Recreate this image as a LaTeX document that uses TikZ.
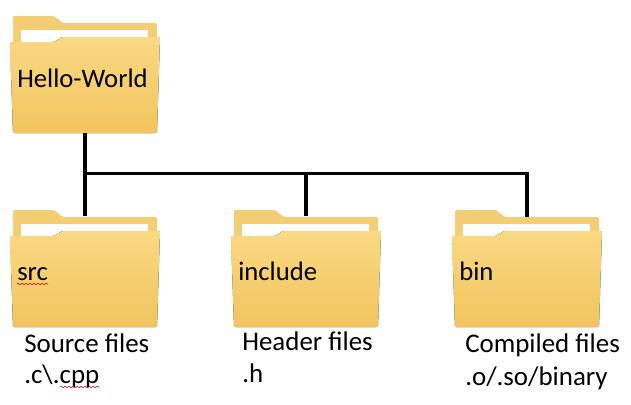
\documentclass[tikz,border=0pt]{standalone}
\usepackage{fontspec}
\setmainfont{Carlito}
\usetikzlibrary{decorations.pathmorphing}

\tikzset{
  folderback/.style={fill=folderdark},
  folderfront/.style={top color=foldertop, bottom color=folderbottom},
  folderbox/.style={minimum width=108pt, minimum height=83.25pt, inner sep=0pt},
  foldername/.style={anchor=base west, inner sep=0pt, font=\fontsize{20}{24}\selectfont},
  caption/.style={anchor=base west, inner sep=0pt, font=\fontsize{20.2}{24}\selectfont},
  spell/.style={red!75!black, line width=0.4pt, decorate,
    decoration={snake, amplitude=0.6pt, segment length=3pt}},
  branch/.style={line width=2.3pt}
}
\definecolor{folderdark}{HTML}{F3CE75}
\definecolor{foldertop}{HTML}{F9D983}
\definecolor{folderbottom}{HTML}{F2C45E}

\begin{document}
\begin{tikzpicture}[x=0.75pt, y=-0.75pt]
  \useasboundingbox (0,0) rectangle (631,404);

  % the four folders, drawn at their offsets
  \foreach \fx/\fy/\name in {0/0/hello, 0/194/src, 221/194/include, 442/194/bin} {
    \begin{scope}[shift={(\fx,\fy)}]
      \fill[folderback, rounded corners=1pt] (13,44) -- (13,16) -- (54,16) -- (63,23)
        -- (157,23) -- (157,44) -- cycle;
      \fill[white] (21,30) rectangle (148,43);
      \fill[folderfront, rounded corners=1pt] (10,42) -- (54,42) -- (62,37) -- (160,37)
        -- (157,133) -- (13,133) -- cycle;
      \node[folderbox] (\name) at (85,77.5) {};
    \end{scope}
  }

  \node[foldername] (hello-text) at (17,87) {Hello-World};
  \node[foldername] (src-text) at (17,280) {src};
  \node[foldername] (include-text) at (238,280) {include};
  \node[foldername] (bin-text) at (459,280) {bin};

  \node[caption] (src-cap1) at (24,352) {Source files};
  \node[caption] (src-cap2) at (24,383) {.c\textbackslash.cpp};
  \node[caption] (include-cap1) at (242,350) {Header files};
  \node[caption] (include-cap2) at (242,382) {.h};
  \node[caption] (bin-cap1) at (465,352) {Compiled files};
  \node[caption] (bin-cap2) at (465,385) {.o/.so/binary};

  % spell-check underlines
  \draw[spell] (src-text.base west) ++(0,4) coordinate (s1) -- (src-text.base east |- s1);
  \draw[spell] (src-cap2.base west) ++(36,4) coordinate (s2) -- (src-cap2.base east |- s2);

  \coordinate (bus) at (hello.south |- 0,173.5);
  \draw[branch] (hello.south) -- (src.north);
  \draw[branch, line cap=rect] (bus) -| (bin.north);
  \draw[branch] (include.north) -- (include.north |- bus);
\end{tikzpicture}
\end{document}
